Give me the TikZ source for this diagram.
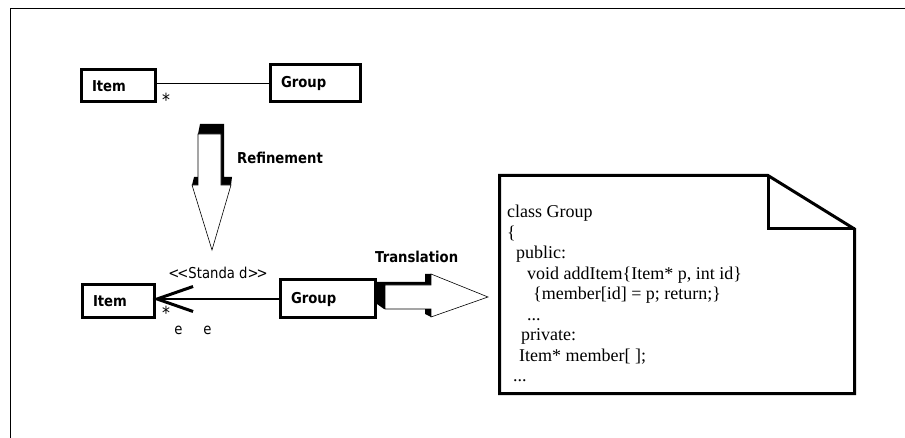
\documentclass[tikz,border=0pt]{standalone}
\usepackage{fontspec}
\setmainfont{Liberation Serif}
\newfontfamily\umlfont{DejaVu Sans}[FakeStretch=0.88]
\usetikzlibrary{arrows.meta, positioning}

\begin{document}
\begin{tikzpicture}[x=1pt, y=-1pt,
    classbox/.style={draw, line width=3pt, anchor=north west, inner xsep=11pt, inner ysep=0pt,
        align=left, font=\umlfont\bfseries\fontsize{15}{17}\selectfont},
    steplabel/.style={anchor=west, inner sep=0pt, font=\umlfont\bfseries\fontsize{15}{17}\selectfont},
    plainlabel/.style={inner sep=0pt, font=\umlfont\fontsize{15}{17}\selectfont},
    mult/.style={inner sep=0pt, font=\umlfont\fontsize{18}{19}\selectfont},
    face/.style={draw, fill=white, line width=0.6pt},
    notebox/.style={draw, line width=3pt, line join=miter}]

    \useasboundingbox (0,0) rectangle (905,438);
    \draw[line width=0.8pt] (905,8) -- (10,8) -- (10,438);

    % first model
    \node[classbox, minimum width=74pt, text width=52pt, minimum height=32pt] (item1) at (79.5,68.5) {Item};
    \node[classbox, minimum width=90pt, text width=68pt, minimum height=37pt] (group1) at (268.5,63.5) {Group};
    \draw[line width=1.8pt] (group1.west) -- (group1.west -| item1.east);
    \node[mult] (star1) at (166,100) {*};

    % refinement arrow, pointing down
    \fill (200,124) -- (224,124) -- (224,177) -- (232,177) -- (231,185) -- (192,185) -- (194,177)
        -- (198,177) -- (198,134) -- cycle;
    \draw[face] (198,134) -- (221,134) -- (221,185) -- (231,185) -- (212,250) -- (192,185)
        -- (198,185) -- cycle;
    \node[steplabel] (refine) at (237,158) {Refinement};

    % second model
    \node[classbox, minimum width=72pt, text width=50pt, minimum height=33pt] (item2) at (80.5,283.5) {Item};
    \node[classbox, minimum width=95pt, text width=73pt, minimum height=38pt] (group2) at (278.5,278.5) {Group};
    \draw[line width=1.8pt, shorten >=-3pt, -{Straight Barb[length=36pt, width=25pt, line width=3pt]}]
        (group2.west) -- (group2.west -| item2.east);
    \node[plainlabel] (stereo) at (218,273) {\mbox{<}\kern-2pt\mbox{<}Standa d\mbox{>}\kern-2pt\mbox{>}};
    \node[mult] (star2) at (166,313) {*};
    \node[plainlabel] (order) at (193,330) {e\hspace{21pt}e};

    % translation arrow, pointing right
    \fill (377,282) -- (425,282) -- (425,274) -- (431,274) -- (431,317) -- (425,314) -- (425,309)
        -- (384,309) -- (377,304) -- cycle;
    \draw[face] (385,285) -- (431,285) -- (431,274) -- (488,297) -- (431,317) -- (431,309)
        -- (385,309) -- cycle;
    \node[steplabel] (translate) at (375,257) {Translation};

    % code note
    \draw[notebox] (499.5,175.5) -- (768,175.5) -- (854.5,229) -- (854.5,393.5) -- (499.5,393.5) -- cycle;
    \draw[notebox] (768,175.5) -- (768,229) -- (854.5,229);
    \node[anchor=north west, inner sep=0pt, align=left, font=\fontsize{18}{20.5}\selectfont] (code) at (507,205) {%
        class Group\\
        \{\\
        \hspace*{9pt}public:\\
        \hspace*{20pt}void addItem\{Item* p, int id\}\\
        \hspace*{26pt}\{member[id] = p; return;\}\\
        \hspace*{20pt}...\\
        \hspace*{14pt}private:\\
        \hspace*{12pt}Item* member[ ];\\
        \hspace*{6pt}...};

\end{tikzpicture}
\end{document}
